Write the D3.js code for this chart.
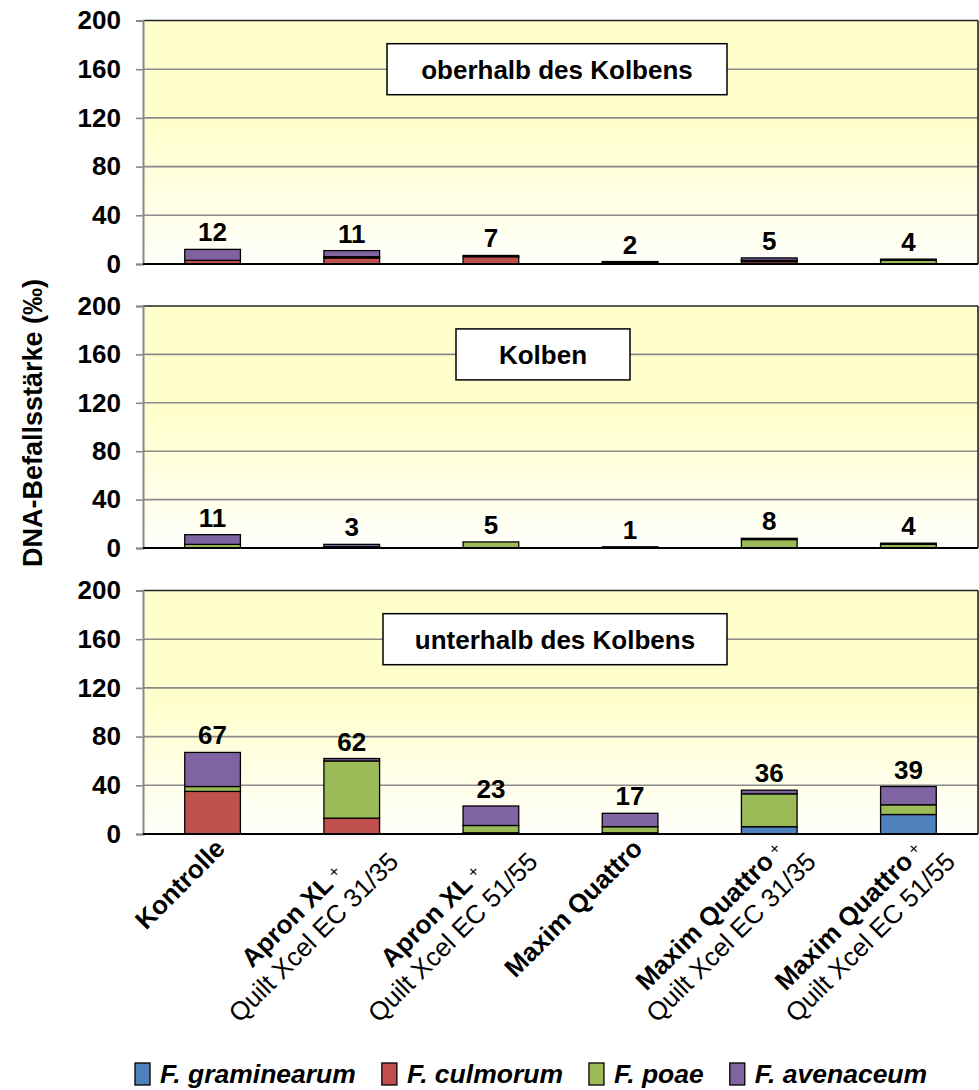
<!DOCTYPE html>
<html>
<head>
<meta charset="utf-8">
<script src="https://cdn.jsdelivr.net/npm/d3@7"></script>
<style>
  html, body { margin: 0; padding: 0; background: #ffffff; }
  svg { display: block; font-family: "Liberation Sans", Arial, sans-serif; }
</style>
</head>
<body>
<svg id="chart" width="979" height="1090"></svg>
<script>
// ---------------- DATA ----------------
const categories = ["Kontrolle", "Apron XL 31/35", "Apron XL 51/55", "Maxim Quattro", "Maxim Quattro 31/35", "Maxim Quattro 51/55"];
const catLine1 = ["Kontrolle", "Apron XL +", "Apron XL +", "Maxim Quattro", "Maxim Quattro +", "Maxim Quattro +"];
const catLine2 = ["", "Quilt Xcel EC 31/35", "Quilt Xcel EC 51/55", "", "Quilt Xcel EC 31/35", "Quilt Xcel EC 51/55"];

const seriesNames = ["F. graminearum", "F. culmorum", "F. poae", "F. avenaceum"];
const seriesColors = ["#4F81BD", "#C0504D", "#9BBB59", "#8064A2"];

const panelTitles = ["oberhalb des Kolbens", "Kolben", "unterhalb des Kolbens"];

// oberhalb des Kolbens
const oberhalbGraminearum = [0, 0, 0, 0, 0, 0];
const oberhalbCulmorum    = [3, 5, 6, 0, 2, 0];
const oberhalbPoae        = [0, 1, 0, 1, 1, 3];
const oberhalbAvenaceum   = [9, 5, 1, 1, 2, 1];
// Kolben
const kolbenGraminearum = [0, 0, 0, 0, 0, 0];
const kolbenCulmorum    = [0, 0, 0, 0, 0, 0];
const kolbenPoae        = [3, 1, 5, 0, 7, 3];
const kolbenAvenaceum   = [8, 2, 0, 1, 1, 1];
// unterhalb des Kolbens
const unterhalbGraminearum = [0, 0, 0, 1, 6, 16];
const unterhalbCulmorum    = [35, 13, 1, 0, 0, 0];
const unterhalbPoae        = [4, 47, 6, 5, 27, 8];
const unterhalbAvenaceum   = [28, 2, 16, 11, 3, 15];

const yTicks = [0, 40, 80, 120, 160, 200];
const yMax = 200;
const yTitle = "DNA-Befallsstärke (‰)";

// ---------------- BUILD ----------------
const panelSeries = [
  [oberhalbGraminearum, oberhalbCulmorum, oberhalbPoae, oberhalbAvenaceum],
  [kolbenGraminearum, kolbenCulmorum, kolbenPoae, kolbenAvenaceum],
  [unterhalbGraminearum, unterhalbCulmorum, unterhalbPoae, unterhalbAvenaceum]
];

const FS = 26;
const svg = d3.select("#chart");
const plotLeft = 143, plotRight = 978;
const panelBox = [
  { top: 20.5, bottom: 264 },
  { top: 306, bottom: 548 },
  { top: 590.5, bottom: 834 }
];
const titleBoxX = [[387, 727], [456, 630], [383, 727]];
const titleHeight = 51;

const x = d3.scaleBand().domain(categories).range([plotLeft, plotRight]).paddingInner(0.6).paddingOuter(0.3);

const defs = svg.append("defs");
const grad = defs.append("linearGradient").attr("id", "bg").attr("x1", 0).attr("y1", 0).attr("x2", 0).attr("y2", 1);
grad.append("stop").attr("offset", "0%").attr("stop-color", "#FFFFCC");
grad.append("stop").attr("offset", "45%").attr("stop-color", "#FFFFCD");
grad.append("stop").attr("offset", "100%").attr("stop-color", "#FFFFFB");

const stack = d3.stack().keys(d3.range(seriesNames.length));

panelSeries.forEach((ser, p) => {
  const box = panelBox[p];
  const y = d3.scaleLinear().domain([0, yMax]).range([box.bottom, box.top]);
  const g = svg.append("g");

  g.append("rect").attr("x", plotLeft).attr("y", box.top)
    .attr("width", plotRight - plotLeft).attr("height", box.bottom - box.top)
    .attr("fill", "url(#bg)");

  // gridlines
  g.append("g").selectAll("line").data(yTicks.filter(t => t > 0 && t < yMax)).join("line")
    .attr("x1", plotLeft).attr("x2", plotRight)
    .attr("y1", d => y(d)).attr("y2", d => y(d))
    .attr("stroke", "#8a8a8a").attr("stroke-width", 1.6);

  // border top / right
  g.append("line").attr("x1", plotLeft).attr("x2", plotRight).attr("y1", y(yMax)).attr("y2", y(yMax))
    .attr("stroke", "#222").attr("stroke-width", 1.6);
  g.append("line").attr("x1", plotRight).attr("x2", plotRight).attr("y1", y(yMax)).attr("y2", y(0))
    .attr("stroke", "#222").attr("stroke-width", 1.6);

  // y axis
  const yAxis = d3.axisLeft(y).tickValues(yTicks).tickSize(7).tickPadding(15).tickFormat(d3.format("d"));
  const ya = g.append("g").attr("transform", `translate(${plotLeft},0)`).call(yAxis);
  ya.select(".domain").attr("stroke", "#8a8a8a").attr("stroke-width", 2);
  ya.selectAll(".tick line").attr("stroke", "#8a8a8a").attr("stroke-width", 1.6);
  ya.selectAll(".tick text").attr("font-size", FS).attr("font-weight", "bold")
    .attr("font-family", "Liberation Sans, Arial, sans-serif").attr("fill", "#000");

  // title box
  const [bx0, bx1] = titleBoxX[p];
  const tg = g.append("g");
  tg.append("rect").attr("x", bx0).attr("y", y(160) - titleHeight / 2)
    .attr("width", bx1 - bx0).attr("height", titleHeight)
    .attr("fill", "#fff").attr("stroke", "#000").attr("stroke-width", 1.5);
  tg.append("text").attr("x", (bx0 + bx1) / 2).attr("y", y(160))
    .attr("text-anchor", "middle").attr("dy", "0.36em")
    .attr("font-size", FS).attr("font-weight", "bold").text(panelTitles[p]);

  // stacked bars
  const rows = categories.map((c, i) => ser.map(s => s[i]));
  const stacked = stack(rows);
  stacked.forEach((layer, k) => {
    g.append("g").selectAll("rect").data(layer.map((d, i) => ({ d, i })).filter(o => o.d[1] - o.d[0] > 0)).join("rect")
      .attr("x", o => x(categories[o.i]))
      .attr("width", x.bandwidth())
      .attr("y", o => y(o.d[1]))
      .attr("height", o => y(o.d[0]) - y(o.d[1]))
      .attr("fill", seriesColors[k])
      .attr("stroke", "#000").attr("stroke-width", 1.3);
  });

  // bottom axis
  g.append("line").attr("x1", plotLeft).attr("x2", plotRight).attr("y1", y(0)).attr("y2", y(0))
    .attr("stroke", "#000").attr("stroke-width", 2);

  // totals
  const totals = rows.map(r => d3.sum(r));
  g.append("g").selectAll("text").data(totals).join("text")
    .attr("x", (d, i) => x(categories[i]) + x.bandwidth() / 2)
    .attr("y", d => y(d) - 8)
    .attr("text-anchor", "middle").attr("font-size", FS).attr("font-weight", "bold")
    .text(d => d3.format("d")(d));
});

// y title
svg.append("text").attr("transform", `translate(42,423) rotate(-90)`)
  .attr("text-anchor", "middle").attr("font-size", 27).attr("font-weight", "bold").text(yTitle);

// x labels
const axisY = panelBox[2].bottom;
const lh = 30;
const XFS = 26;
categories.forEach((c, i) => {
  const cx = x(c) + x.bandwidth() / 2;
  const two = catLine2[i] !== "";
  const lg = svg.append("g");
  if (!two) {
    lg.attr("transform", `translate(${cx + 14},${axisY + 16}) rotate(-45)`);
    lg.append("text").attr("text-anchor", "end").attr("font-size", XFS).attr("font-weight", "bold").text(catLine1[i]);
  } else {
    lg.attr("transform", `translate(${cx + 27},${axisY + 8}) rotate(-45)`);
    const t2 = lg.append("text").attr("text-anchor", "end").attr("y", lh).attr("font-size", XFS).text(catLine2[i]);
    const w2 = t2.node().getComputedTextLength();
    const t1 = lg.append("text").attr("text-anchor", "middle").attr("x", -w2 / 2).attr("y", 0);
    t1.append("tspan").attr("font-size", XFS).attr("font-weight", "bold").text(catLine1[i].replace(" +", ""));
    t1.append("tspan").attr("font-size", 17).attr("dy", -5).text(" +");
  }
});

// legend
const legendY = 1073;
let lx = 135;
seriesNames.forEach((s, k) => {
  svg.append("rect").attr("x", lx).attr("y", legendY - 10).attr("width", 15).attr("height", 22)
    .attr("fill", seriesColors[k]).attr("stroke", "#000").attr("stroke-width", 1.3);
  const t = svg.append("text").attr("x", lx + 25).attr("y", legendY).attr("dy", "0.36em")
    .attr("font-size", 26.5).attr("font-weight", "bold").attr("font-style", "italic").text(s);
  lx += 25 + t.node().getComputedTextLength() + 26;
});
</script>
</body>
</html>
